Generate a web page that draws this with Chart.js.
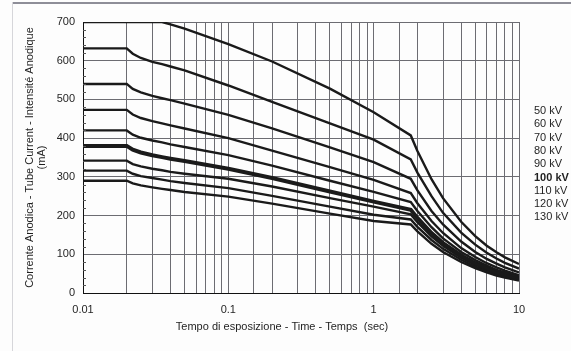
<!DOCTYPE html>
<html>
<head>
<meta charset="utf-8">
<script src="https://cdn.jsdelivr.net/npm/chart.js@4.4.1/dist/chart.umd.min.js"></script>
<style>
  html, body { margin: 0; padding: 0; background: #fff; }
  #wrap { position: relative; width: 571px; height: 351px; background: #fdfdfd; overflow: hidden; }
  #wrap .topline { position: absolute; left: 12px; top: 2px; width: 559px; height: 2px; background: #8e8e98; }
  #wrap .leftline { position: absolute; left: 12px; top: 2px; width: 1px; height: 349px; background: #d6d6da; }
  canvas { position: absolute; left: 0; top: 0; }
</style>
</head>
<body>
<div id="wrap">
  <div class="topline"></div>
  <div class="leftline"></div>
  <canvas id="curves" width="571" height="351"></canvas>
</div>
<script>
// exposure time (s), shared by every curve
const times = [0.01, 0.02, 0.022, 0.025, 0.03, 0.035, 0.04, 0.05, 0.1, 0.2, 0.5, 1, 1.8, 2, 2.5, 3, 4, 5, 6, 7, 8, 10];

// tube current (mA) per kV
const kv50  = [700, 700, 700, 700, 700, 700, 694, 683, 643, 598, 528, 467, 407, 367, 294, 245, 184, 147, 122, 105, 92, 75];
const kv60  = [632, 632, 618, 607, 597, 591, 585, 575, 536, 494, 438, 396, 345, 311, 250, 207, 156, 125, 104, 89, 78, 63];
const kv70  = [540, 540, 527, 518, 509, 503, 498, 489, 460, 425, 376, 338, 295, 265, 212, 177, 133, 106, 88, 76, 66, 53];
const kv80  = [473, 473, 461, 452, 444, 438, 433, 425, 400, 368, 325, 292, 258, 232, 186, 155, 116, 93, 77, 66, 58, 46];
const kv90  = [420, 420, 409, 401, 394, 389, 384, 377, 356, 329, 290, 261, 235, 212, 170, 141, 106, 85, 71, 60, 53, 42];
const kv100 = [380, 380, 370, 363, 356, 351, 347, 341, 321, 297, 262, 236, 215, 194, 155, 129, 97, 77, 65, 55, 48, 39];
const kv110 = [342, 342, 333, 327, 321, 317, 313, 308, 295, 275, 245, 223, 203, 183, 146, 122, 91, 73, 61, 52, 46, 37];
const kv120 = [316, 316, 308, 302, 297, 293, 289, 284, 271, 251, 223, 202, 190, 171, 137, 114, 86, 68, 57, 49, 43, 34];
const kv130 = [290, 290, 283, 278, 273, 269, 266, 261, 249, 231, 205, 186, 177, 159, 127, 106, 80, 64, 53, 45, 40, 32];

const kvLabels = ["50 kV", "60 kV", "70 kV", "80 kV", "90 kV", "100 kV", "110 kV", "120 kV", "130 kV"];
const kvSeries = [kv50, kv60, kv70, kv80, kv90, kv100, kv110, kv120, kv130];
const boldLabel = "100 kV";

const xTickLabels = ["0.01", "0.1", "1", "10"];
const yMax = 700;
const yStep = 100;
const yMinorStep = 20;

const yTitle = ["Corrente Anodica - Tube Current - Intensité Anodique", "(mA)"];
const xTitle = "Tempo di esposizione - Time - Temps  (sec)";

const fontFamily = '"Liberation Sans", Arial, sans-serif';
const inkColor = "#1f1f1f";

const datasets = kvSeries.map((series, i) => ({
  label: kvLabels[i],
  data: times.map((t, j) => ({ x: t, y: series[j] })),
  borderColor: "#1a1a1a",
  borderWidth: kvLabels[i] === boldLabel ? 4 : 2.4,
  pointRadius: 0,
  tension: 0,
  fill: false,
}));

// minor ticks, axis titles and the kV list on the right
const extras = {
  id: "extras",
  afterDraw(chart) {
    const { ctx, chartArea, scales } = chart;
    ctx.save();

    ctx.strokeStyle = "#555";
    ctx.lineWidth = 1;
    for (let v = 0; v <= yMax; v += yMinorStep) {
      if (v % yStep === 0) continue;
      const y = Math.round(scales.y.getPixelForValue(v)) + 0.5;
      ctx.beginPath();
      ctx.moveTo(chartArea.left, y);
      ctx.lineTo(chartArea.left + 3, y);
      ctx.stroke();
    }

    ctx.fillStyle = inkColor;
    ctx.textBaseline = "middle";

    // y title, two lines rotated
    const midY = (chartArea.top + chartArea.bottom) / 2;
    ctx.font = `11px ${fontFamily}`;
    ctx.textAlign = "center";
    yTitle.forEach((line, i) => {
      ctx.save();
      ctx.translate(30 + i * 11.5, midY);
      ctx.rotate(-Math.PI / 2);
      ctx.fillText(line, 0, 0);
      ctx.restore();
    });

    // x title
    ctx.fillText(xTitle, 282, 327);

    // kV list
    ctx.textAlign = "left";
    kvLabels.forEach((label, i) => {
      ctx.font = label === boldLabel ? `bold 11px ${fontFamily}` : `11px ${fontFamily}`;
      ctx.fillText(label, chartArea.right + 15, 111 + i * 13.3);
    });

    ctx.restore();
  },
};

new Chart(document.getElementById("curves"), {
  type: "line",
  data: { datasets },
  options: {
    responsive: false,
    animation: false,
    events: [],
    layout: { padding: { top: 22, right: 52, left: 0, bottom: 0 } },
    plugins: {
      legend: { display: false },
      tooltip: { enabled: false },
    },
    scales: {
      x: {
        type: "logarithmic",
        min: 0.01,
        max: 10,
        afterFit: (scale) => { scale.height = 58; },
        grid: { color: "#6c6c72", lineWidth: 1, drawTicks: false },
        border: { color: "#111", width: 1 },
        ticks: {
          autoSkip: false,
          maxRotation: 0,
          padding: 10,
          color: inkColor,
          font: { family: fontFamily, size: 11 },
          callback: (value) => {
            const label = xTickLabels.find((l) => Math.abs(Number(l) - value) < 1e-9);
            return label || "";
          },
        },
      },
      y: {
        min: 0,
        max: yMax,
        afterFit: (scale) => { scale.width = 83; },
        grid: { color: "#6c6c72", lineWidth: 1, drawTicks: false },
        border: { color: "#111", width: 1 },
        ticks: {
          stepSize: yStep,
          padding: 8,
          color: inkColor,
          font: { family: fontFamily, size: 11 },
        },
      },
    },
  },
  plugins: [extras],
});
</script>
</body>
</html>
